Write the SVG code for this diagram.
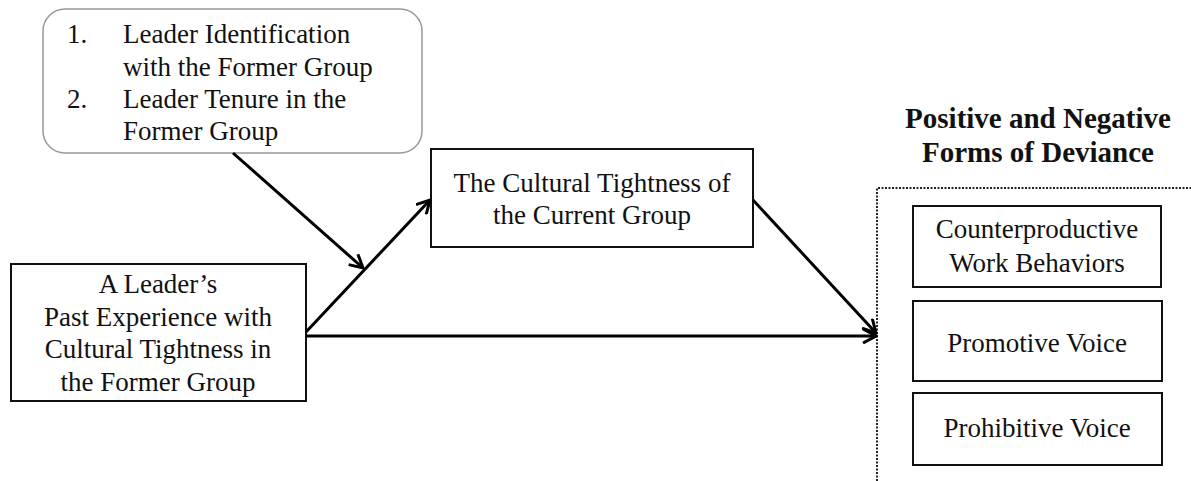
<svg xmlns="http://www.w3.org/2000/svg" width="1191" height="481" viewBox="0 0 1191 481">
<style>
text{font-family:"Liberation Serif","Times New Roman",serif;font-size:27px;fill:#111}
.c{text-anchor:middle}
.b{font-weight:bold;font-size:29px}
.box{fill:#fff;stroke:#111;stroke-width:2}
.conn{stroke:#000;stroke-width:3;fill:none;marker-end:url(#ah)}
</style>
<defs>
<marker id="ah" markerUnits="userSpaceOnUse" viewBox="0 0 16 16" refX="14" refY="8" markerWidth="16" markerHeight="16" orient="auto">
<path d="M1,1 L14,8 L1,15" fill="none" stroke="#000" stroke-width="3" stroke-linejoin="miter"/>
</marker>
</defs>
<g id="moderators">
<rect x="43" y="9" width="379" height="144" rx="22" ry="22" fill="#fff" stroke="#999" stroke-width="1.5"/>
<text x="67" y="43">1.</text>
<text x="123" y="43">Leader Identification</text>
<text x="123" y="76">with the Former Group</text>
<text x="67" y="108">2.</text>
<text x="123" y="108">Leader Tenure in the</text>
<text x="123" y="140">Former Group</text>
</g>
<g id="past-experience">
<rect class="box" x="11" y="264" width="295" height="137"/>
<text class="c" x="158" y="293">A Leader’s</text>
<text class="c" x="158" y="326">Past Experience with</text>
<text class="c" x="158" y="358">Cultural Tightness in</text>
<text class="c" x="158" y="391">the Former Group</text>
</g>
<g id="current-tightness">
<rect class="box" x="431" y="149" width="322" height="98"/>
<text class="c" x="592" y="192">The Cultural Tightness of</text>
<text class="c" x="592" y="224">the Current Group</text>
</g>
<g id="deviance">
<text class="c b" x="1038" y="128">Positive and Negative</text>
<text class="c b" x="1038" y="162">Forms of Deviance</text>
<path d="M877,481 L877,188 L1191,188" fill="none" stroke="#222" stroke-width="2" stroke-dasharray="2,1.5"/>
<g id="cwb">
<rect class="box" x="913" y="206" width="248" height="81"/>
<text class="c" x="1037" y="238">Counterproductive</text>
<text class="c" x="1037" y="272">Work Behaviors</text>
</g>
<g id="promotive">
<rect class="box" x="913" y="301" width="249" height="80"/>
<text class="c" x="1037" y="352">Promotive Voice</text>
</g>
<g id="prohibitive">
<rect class="box" x="913" y="393" width="249" height="72"/>
<text class="c" x="1037" y="437">Prohibitive Voice</text>
</g>
</g>
<g id="connectors">
<line class="conn" x1="233" y1="153" x2="363" y2="268"/>
<line class="conn" x1="306" y1="332" x2="430" y2="200"/>
<line class="conn" x1="306" y1="336" x2="876" y2="336"/>
<line class="conn" x1="753" y1="200" x2="876" y2="333"/>
</g>
</svg>
